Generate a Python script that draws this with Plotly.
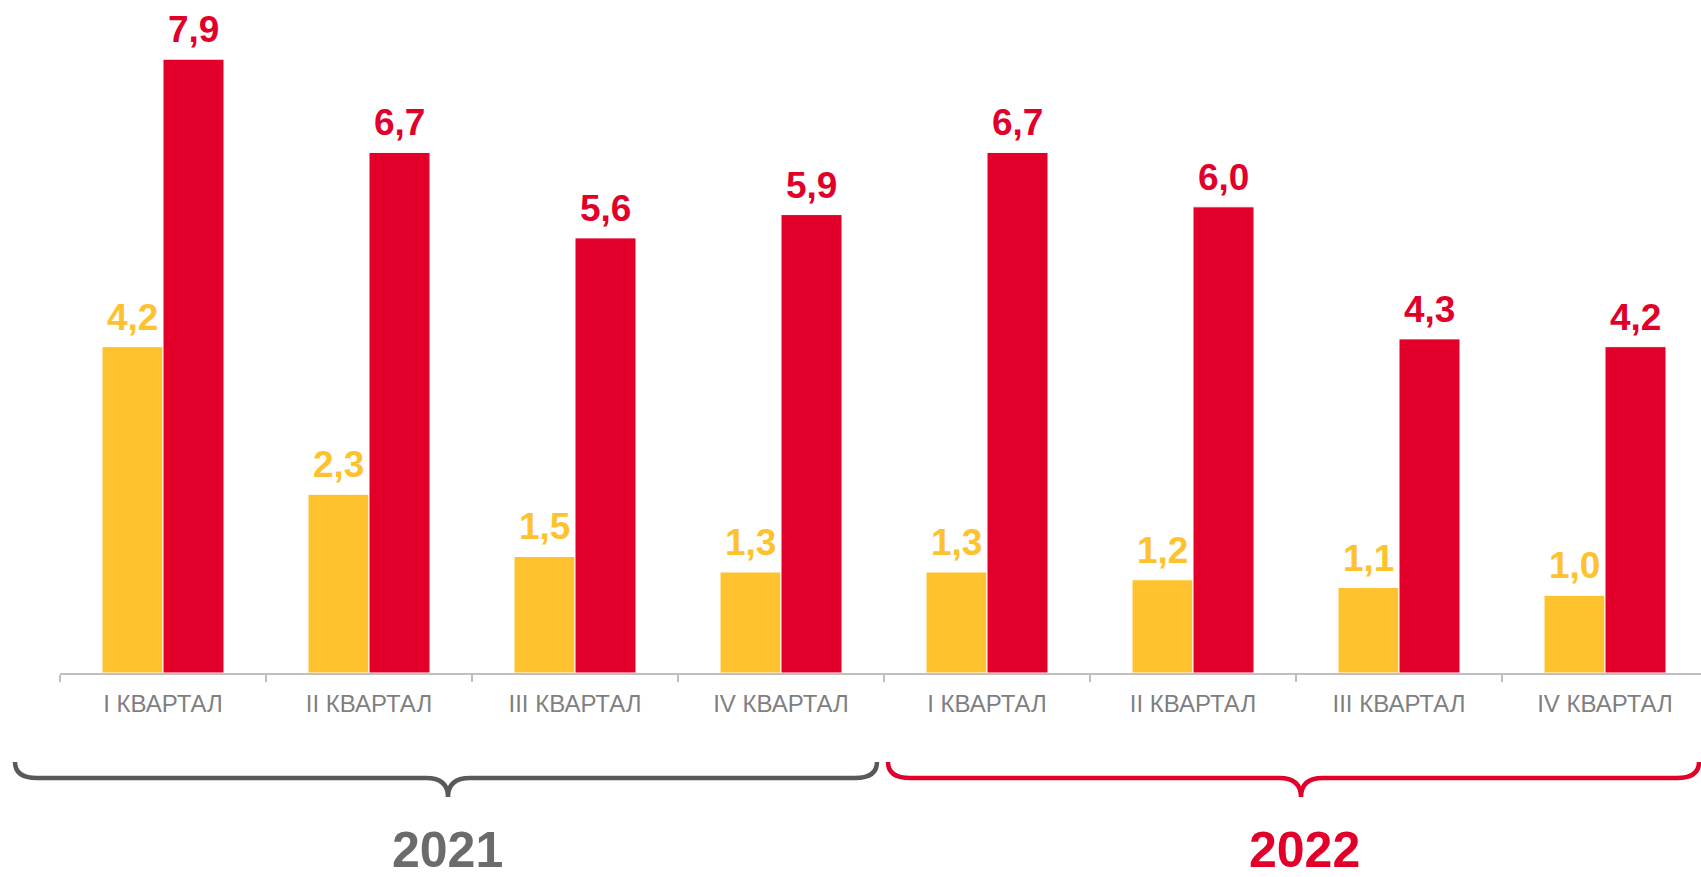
import plotly.graph_objects as go

# ---- data ----
quarters = ["I КВАРТАЛ", "II КВАРТАЛ", "III КВАРТАЛ", "IV КВАРТАЛ",
            "I КВАРТАЛ", "II КВАРТАЛ", "III КВАРТАЛ", "IV КВАРТАЛ"]
series_yellow = [4.2, 2.3, 1.5, 1.3, 1.3, 1.2, 1.1, 1.0]
series_red = [7.9, 6.7, 5.6, 5.9, 6.7, 6.0, 4.3, 4.2]
years = ["2021", "2022"]

YELLOW = "#FEC22F"
RED = "#E2002B"
GRAY_BRACE = "#595959"
GRAY_YEAR = "#6B6B6B"

W, H = 1701, 877
L, T = 60, 0
PLOT_BOTTOM = 673
CAT_PX = 206.0
plot_w = W - L
x_max = -0.5 + plot_w / CAT_PX
PX_PER_UNIT = 77.7
y_max = (PLOT_BOTTOM - T) / PX_PER_UNIT

x_idx = list(range(len(quarters)))

def px2paper(px, py):
    return (px - L) / plot_w, (PLOT_BOTTOM - py) / (PLOT_BOTTOM - T)

fig = go.Figure()
fig.add_trace(go.Bar(x=x_idx, y=series_yellow, marker=dict(color=YELLOW, line=dict(color="white", width=1)),
                     hoverinfo="skip", showlegend=False))
fig.add_trace(go.Bar(x=x_idx, y=series_red, marker=dict(color=RED, line=dict(color="white", width=1)),
                     hoverinfo="skip", showlegend=False))

bargap = 1 - 122 / CAT_PX
half_bar = (1 - bargap) / 4  # offset of each bar centre from category centre

LBL_FONT = "Liberation Sans, Arial"
annotations = []
for i, v in enumerate(series_yellow):
    annotations.append(dict(x=i - half_bar, y=v, xref="x", yref="y", text=f"<b>{v:.1f}</b>".replace(".", ","),
                            showarrow=False, yanchor="bottom", yshift=7,
                            font=dict(family=LBL_FONT, size=37, color=YELLOW)))
for i, v in enumerate(series_red):
    annotations.append(dict(x=i + half_bar, y=v, xref="x", yref="y", text=f"<b>{v:.1f}</b>".replace(".", ","),
                            showarrow=False, yanchor="bottom", yshift=7,
                            font=dict(family=LBL_FONT, size=37, color=RED)))

# year labels
for txt, cx, col in [(years[0], 447, GRAY_YEAR), (years[1], 1304, RED)]:
    ax_, ay_ = px2paper(cx, 850)
    annotations.append(dict(x=ax_, y=ay_, xref="paper", yref="paper", text=f"<b>{txt}</b>",
                            showarrow=False, xanchor="center", yanchor="middle",
                            font=dict(family=LBL_FONT, size=50, color=col)))

def brace_path(x0, x1, xc, ytop=762, yline=778, ybot=797, r=22):
    def P(px, py):
        a, b = px2paper(px, py)
        return f"{a:.5f},{b:.5f}"
    return (f"M {P(x0, ytop)} Q {P(x0, yline)} {P(x0 + r, yline)} "
            f"L {P(xc - r, yline)} Q {P(xc, yline)} {P(xc, ybot)} "
            f"Q {P(xc, yline)} {P(xc + r, yline)} "
            f"L {P(x1 - r, yline)} Q {P(x1, yline)} {P(x1, ytop)}")

shapes = [
    dict(type="path", xref="paper", yref="paper", path=brace_path(15, 877, 448),
         line=dict(color=GRAY_BRACE, width=4.5)),
    dict(type="path", xref="paper", yref="paper", path=brace_path(888, 1699, 1301),
         line=dict(color=RED, width=4.5)),
]

fig.update_layout(
    width=W, height=H,
    margin=dict(l=L, r=0, t=T, b=H - PLOT_BOTTOM, pad=0),
    paper_bgcolor="white", plot_bgcolor="white",
    barmode="group", bargap=bargap, bargroupgap=0,
    annotations=annotations, shapes=shapes,
    xaxis=dict(range=[-0.5, x_max], tickmode="array", tickvals=x_idx, ticktext=quarters,
               ticks="", showgrid=False, zeroline=False,
               showline=True, linecolor="#BFBFBF", linewidth=1.5,
               tickfont=dict(family=LBL_FONT, size=24, color="#7F7F7F"),
               ticklabelstandoff=8,
               minor=dict(tickmode="array", tickvals=[k - 0.5 for k in range(9)], ticks="outside",
                          ticklen=7, tickcolor="#BFBFBF", tickwidth=1.5, showgrid=False)),
    yaxis=dict(range=[0, y_max], visible=False, showgrid=False, zeroline=False),
)

fig.write_html("out.html", config={"displayModeBar": False},
               post_script="document.body.style.margin='0';document.body.style.padding='0';document.body.style.overflow='hidden';")
